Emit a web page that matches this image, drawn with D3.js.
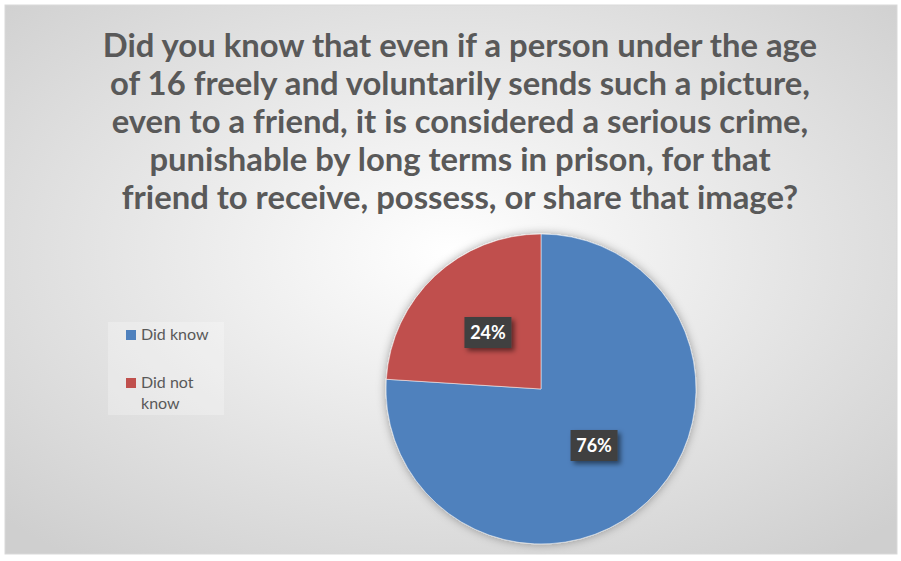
<!DOCTYPE html>
<html>
<head>
<meta charset="utf-8">
<script src="https://cdn.jsdelivr.net/npm/d3@7"></script>
<style>
  body { margin: 0; background: #fff; }
  svg { display: block; }
</style>
</head>
<body>
<div id="chart"></div>
<script>
// chart data
const categories = ["Did know", "Did not know"];
const values = [76, 24];
const labels = ["76%", "24%"];
const colors = ["#4F81BD", "#C0504D"];
const titleLines = [
    "Did you know that even if a person under the age",
    "of 16 freely and voluntarily sends such a picture,",
    "even to a friend, it is considered a serious crime,",
    "punishable by long terms in prison, for that",
    "friend to receive, possess, or share that image?"
];

const W = 901, H = 561;
const svg = d3.select("#chart").append("svg")
    .attr("width", W).attr("height", H);

const defs = svg.append("defs");
const bg = defs.append("radialGradient").attr("id", "bg")
    .attr("cx", "50%").attr("cy", "45%").attr("r", "70%");
bg.append("stop").attr("offset", "0%").attr("stop-color", "#ffffff");
bg.append("stop").attr("offset", "100%").attr("stop-color", "#cfcfcf");

const pieShadow = defs.append("filter").attr("id", "pieShadow")
    .attr("x", "-20%").attr("y", "-20%").attr("width", "140%").attr("height", "140%");
pieShadow.append("feDropShadow").attr("dx", 0).attr("dy", 0)
    .attr("stdDeviation", 5).attr("flood-color", "#000").attr("flood-opacity", 0.35);

const boxShadow = defs.append("filter").attr("id", "boxShadow")
    .attr("x", "-30%").attr("y", "-30%").attr("width", "170%").attr("height", "170%");
boxShadow.append("feDropShadow").attr("dx", 3).attr("dy", 3)
    .attr("stdDeviation", 2.5).attr("flood-color", "#000").attr("flood-opacity", 0.5);

// chart area
svg.append("rect")
    .attr("x", 5).attr("y", 5).attr("width", 892).attr("height", 549)
    .attr("fill", "url(#bg)").attr("stroke", "#d9d9d9");

// title
const title = svg.append("text")
    .attr("text-anchor", "middle")
    .style("font-family", "Lato, 'Open Sans', sans-serif")
    .style("font-weight", "bold")
    .style("font-size", "32.8px")
    .style("fill", "#595959");
titleLines.forEach((t, i) => {
    title.append("tspan").attr("x", 460).attr("y", 57 + i * 38).text(t);
});

// pie
const cx = 541, cy = 389, r = 155;
const pie = d3.pie().sort(null).startAngle(0).endAngle(2 * Math.PI)(values);
const arc = d3.arc().innerRadius(0).outerRadius(r);
const g = svg.append("g").attr("transform", `translate(${cx},${cy})`);

g.append("g").attr("filter", "url(#pieShadow)")
    .selectAll("path").data(pie).join("path")
    .attr("d", arc)
    .attr("fill", (d, i) => colors[i])
    .attr("stroke", "#ffffff").attr("stroke-width", 0.5);

// data labels
const labelArc = d3.arc().innerRadius(r * 0.5).outerRadius(r * 0.5);
const lab = g.selectAll("g.lab").data(pie).join("g")
    .attr("class", "lab")
    .attr("transform", d => `translate(${labelArc.centroid(d)})`);
lab.append("rect")
    .attr("x", -23.5).attr("y", -15.5).attr("width", 47).attr("height", 31)
    .attr("fill", "#404040")
    .attr("filter", "url(#boxShadow)");
lab.append("text")
    .attr("text-anchor", "middle").attr("dy", "0.36em")
    .style("font-family", "Lato, 'Open Sans', sans-serif")
    .style("font-weight", "bold").style("font-size", "18px")
    .style("fill", "#ffffff")
    .text((d, i) => labels[i]);

// legend
const legend = svg.append("g").attr("transform", "translate(108,322)");
legend.append("rect")
    .attr("width", 116).attr("height", 93)
    .attr("fill", "#ffffff").attr("fill-opacity", 0.25);
const legendText = [["Did know"], ["Did not", "know"]];
categories.forEach((c, i) => {
    const item = legend.append("g").attr("transform", `translate(18,${8 + i * 48})`);
    item.append("rect").attr("width", 10).attr("height", 10).attr("fill", colors[i]);
    const t = item.append("text")
        .style("font-family", "Lato, 'Open Sans', sans-serif")
        .style("font-size", "16px").style("fill", "#595959");
    legendText[i].forEach((s, j) => {
        t.append("tspan").attr("x", 15).attr("y", 10 + j * 21).text(s);
    });
});
</script>
</body>
</html>
